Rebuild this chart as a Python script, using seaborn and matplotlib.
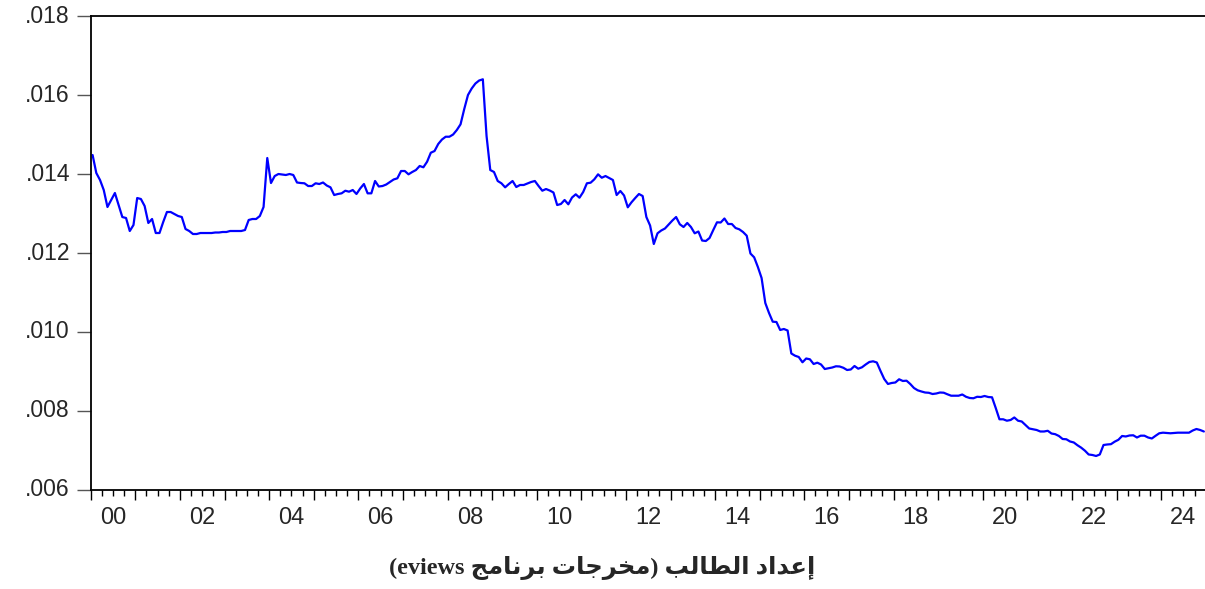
import numpy as np
import matplotlib
matplotlib.use("Agg")
import matplotlib.pyplot as plt
from matplotlib.ticker import MultipleLocator, FuncFormatter
import seaborn as sns

# monthly series (jan 2000 .. dec 2024)
rate_2000_04 = [0.014481, 0.014025, 0.013848, 0.013595, 0.013165, 0.013342, 0.013519, 0.013215, 0.012911, 0.012886, 0.012557, 0.012709,
                0.013392, 0.013367, 0.013190, 0.012760, 0.012861, 0.012506, 0.012506, 0.012785, 0.013038, 0.013038, 0.012987, 0.012937,
                0.012911, 0.012608, 0.012557, 0.012481, 0.012481, 0.012506, 0.012506, 0.012506, 0.012506, 0.012519, 0.012519, 0.012532,
                0.012532, 0.012557, 0.012557, 0.012557, 0.012557, 0.012582, 0.012836, 0.012861, 0.012861, 0.012937, 0.013165, 0.014405,
                0.013772, 0.013949, 0.014000, 0.013987, 0.013975, 0.014000, 0.013975, 0.013785, 0.013772, 0.013765, 0.013696, 0.013696]
rate_2005_09 = [0.013765, 0.013747, 0.013785, 0.013709, 0.013663, 0.013468, 0.013494, 0.013511, 0.013577, 0.013552, 0.013595, 0.013494,
                0.013633, 0.013747, 0.013511, 0.013511, 0.013823, 0.013684, 0.013696, 0.013734, 0.013798, 0.013861, 0.013891, 0.014076,
                0.014076, 0.013992, 0.014051, 0.014101, 0.014203, 0.014170, 0.014311, 0.014539, 0.014582, 0.014760, 0.014873, 0.014944,
                0.014944, 0.015000, 0.015114, 0.015258, 0.015646, 0.016000, 0.016165, 0.016291, 0.016367, 0.016398, 0.014962, 0.014101,
                0.014051, 0.013823, 0.013765, 0.013663, 0.013747, 0.013823, 0.013671, 0.013722, 0.013722, 0.013760, 0.013798, 0.013823]
rate_2010_14 = [0.013696, 0.013577, 0.013620, 0.013582, 0.013532, 0.013215, 0.013241, 0.013342, 0.013233, 0.013405, 0.013486, 0.013400,
                0.013544, 0.013765, 0.013780, 0.013866, 0.013992, 0.013906, 0.013949, 0.013899, 0.013848, 0.013468, 0.013570, 0.013456,
                0.013157, 0.013284, 0.013392, 0.013494, 0.013443, 0.012911, 0.012696, 0.012228, 0.012499, 0.012570, 0.012620, 0.012722,
                0.012823, 0.012911, 0.012727, 0.012658, 0.012760, 0.012658, 0.012499, 0.012544, 0.012316, 0.012304, 0.012380, 0.012582,
                0.012777, 0.012772, 0.012874, 0.012734, 0.012734, 0.012633, 0.012600, 0.012532, 0.012438, 0.011987, 0.011891, 0.011646]
rate_2015_19 = [0.011367, 0.010734, 0.010481, 0.010261, 0.010253, 0.010051, 0.010076, 0.010038, 0.009456, 0.009400, 0.009367, 0.009233,
                0.009329, 0.009309, 0.009190, 0.009223, 0.009177, 0.009063, 0.009081, 0.009101, 0.009132, 0.009127, 0.009094, 0.009038,
                0.009051, 0.009139, 0.009071, 0.009106, 0.009177, 0.009241, 0.009258, 0.009228, 0.009013, 0.008810, 0.008684, 0.008709,
                0.008722, 0.008803, 0.008760, 0.008767, 0.008684, 0.008582, 0.008524, 0.008494, 0.008468, 0.008461, 0.008430, 0.008443,
                0.008468, 0.008463, 0.008423, 0.008387, 0.008387, 0.008387, 0.008418, 0.008360, 0.008329, 0.008322, 0.008360, 0.008354]
rate_2020_24 = [0.008380, 0.008354, 0.008347, 0.008076, 0.007790, 0.007790, 0.007754, 0.007772, 0.007836, 0.007754, 0.007734, 0.007646,
                0.007557, 0.007537, 0.007519, 0.007481, 0.007481, 0.007499, 0.007430, 0.007413, 0.007367, 0.007291, 0.007284, 0.007228,
                0.007203, 0.007132, 0.007071, 0.006995, 0.006899, 0.006886, 0.006861, 0.006899, 0.007139, 0.007152, 0.007160, 0.007223,
                0.007271, 0.007367, 0.007355, 0.007380, 0.007385, 0.007329, 0.007375, 0.007375, 0.007329, 0.007304, 0.007372, 0.007436,
                0.007451, 0.007443, 0.007436, 0.007443, 0.007451, 0.007451, 0.007451, 0.007451, 0.007506, 0.007544, 0.007519, 0.007481]

start_year = 2000
y_ticks = [0.006, 0.008, 0.010, 0.012, 0.014, 0.016, 0.018]
year_labels = ["00", "02", "04", "06", "08", "10", "12", "14", "16", "18", "20", "22", "24"]

# logical text: "إعداد الطالب (مخرجات برنامج eviews)"
# matplotlib has no arabic shaping/bidi, so it is written in visual order with presentation forms
caption = ("(eviews "
           "\uFE9E\uFEE3\uFE8E\uFEE7\uFEAE\uFE91 "
           "\uFE95\uFE8E\uFE9F\uFEAE\uFEA8\uFEE3) "
           "\uFE90\uFEDF\uFE8E\uFEC4\uFEDF\uFE8D "
           "\uFEA9\uFE8D\uFEAA\uFECB\uFE87")

values = rate_2000_04 + rate_2005_09 + rate_2010_14 + rate_2015_19 + rate_2020_24
# mid-month position in fractional years
t = start_year + (np.arange(len(values)) + 0.5) / 12

sns.set_style("white")
plt.rcParams["font.family"] = ["Liberation Sans", "DejaVu Sans"]

fig = plt.figure(figsize=(12.05, 5.89), dpi=100)
ax = fig.add_axes([0.0753, 0.1681, 0.9253, 0.8047])

sns.lineplot(x=t, y=values, ax=ax, color="#0000ff", linewidth=1.6)

ax.set_xlim(start_year, start_year + 25)
ax.set_ylim(0.006, 0.018)
ax.set_xlabel("")
ax.set_ylabel("")

ax.set_yticks(y_ticks)
ax.yaxis.set_major_formatter(FuncFormatter(lambda v, _: f"{v:.3f}".lstrip("0")))
ax.tick_params(axis="y", direction="out", length=10, width=1, color="#555555",
               labelsize=16.5, pad=5, left=True)
for lab in ax.get_yticklabels():
    lab.set_verticalalignment("center")
    lab.set_y(lab.get_position()[1])

ax.xaxis.set_major_locator(MultipleLocator(1))
ax.xaxis.set_minor_locator(MultipleLocator(0.25))
ax.tick_params(axis="x", which="major", direction="out", length=7.5, width=1,
               color="black", labelbottom=False, bottom=True)
ax.tick_params(axis="x", which="minor", direction="out", length=4, width=1,
               color="black", bottom=True)

# year labels sit in the middle of each year, eviews style
sec = ax.secondary_xaxis("bottom")
sec.set_xticks([start_year + 2 * i + 0.5 for i in range(len(year_labels))], year_labels)
sec.tick_params(length=0, labelsize=17, pad=12)
sec.spines["bottom"].set_visible(False)

for side in ["top", "left", "bottom"]:
    ax.spines[side].set_visible(True)
    ax.spines[side].set_color("black")
    ax.spines[side].set_linewidth(1.3)
ax.spines["right"].set_visible(False)

fig.text(0.5, 1 - 568 / 589, caption, ha="center", va="center", fontsize=17.5,
         fontweight="bold", family=["Liberation Serif", "DejaVu Sans"])

fig.savefig("out.png", dpi=100)
